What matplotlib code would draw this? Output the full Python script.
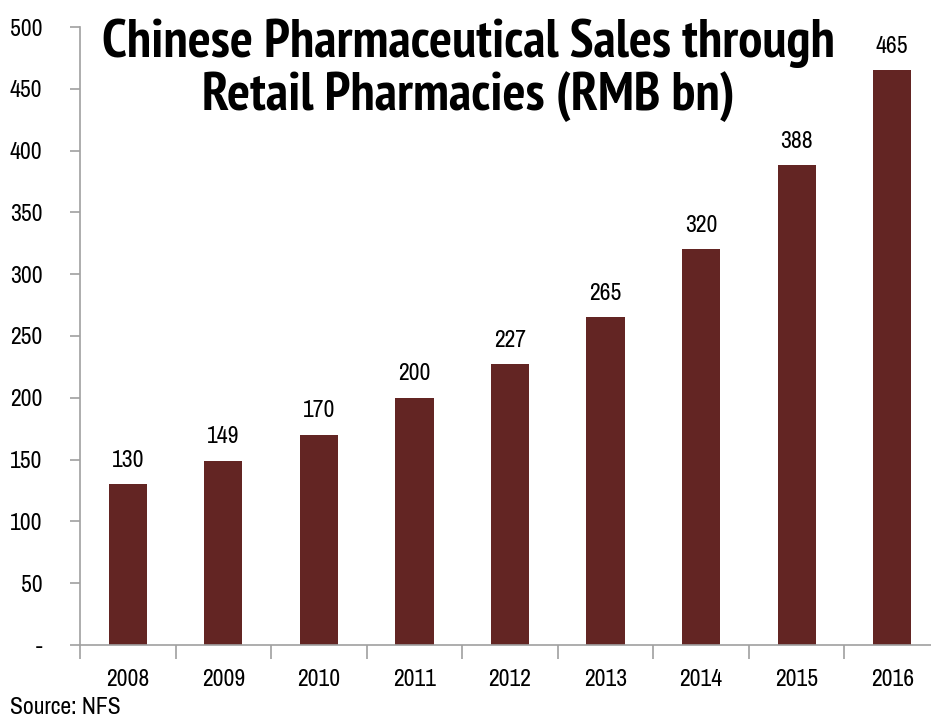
import matplotlib
matplotlib.use('Agg')
import matplotlib.pyplot as plt

# Sales data
years = ['2008', '2009', '2010', '2011', '2012', '2013', '2014', '2015', '2016']
sales = [130, 149, 170, 200, 227, 265, 320, 388, 465]

plt.rcParams['font.family'] = ['Archivo Narrow', 'DejaVu Sans']

fig = plt.figure(figsize=(9.31, 7.19), dpi=100)
ax = fig.add_axes([80 / 931, 74 / 719, 860 / 931, 618 / 719])

x = range(len(years))
ax.bar(x, sales, width=0.4, color='#632523')

for i, v in enumerate(sales):
    ax.text(i, v + 11, str(v), ha='center', va='bottom', fontsize=17)

ax.set_xlim(-0.5, len(years) - 0.5)
ax.set_ylim(0, 500)
ax.set_yticks(range(0, 501, 50))
ax.set_yticklabels(['-'] + [str(t) for t in range(50, 501, 50)], fontsize=17)

# category labels centred, tick marks between categories
ax.set_xticks([i - 0.5 for i in range(len(years) + 1)])
ax.set_xticklabels([])
ax.set_xticks(list(x), minor=True)
ax.set_xticklabels(years, minor=True, fontsize=17)
ax.tick_params(axis='x', which='major', length=10, color='#a0a0a0', width=1.2)
ax.tick_params(axis='x', which='minor', length=0, pad=17)
ax.tick_params(axis='y', length=7, color='#a0a0a0', width=1.2, pad=20)

for side in ['top', 'right']:
    ax.spines[side].set_visible(False)
for side in ['left', 'bottom']:
    ax.spines[side].set_color('#a0a0a0')
    ax.spines[side].set_linewidth(1.2)

fig.text(468 / 931, 1 - 70 / 719, 'Chinese Pharmaceutical Sales through\nRetail Pharmacies (RMB bn)',
         ha='center', va='center', fontsize=39, fontweight='bold', linespacing=1.08,
         family=['PT Sans Narrow', 'DejaVu Sans'])
fig.text(10 / 931, 1 - 707 / 719, 'Source: NFS', ha='left', va='center', fontsize=17)

fig.savefig('out.png', dpi=100)
